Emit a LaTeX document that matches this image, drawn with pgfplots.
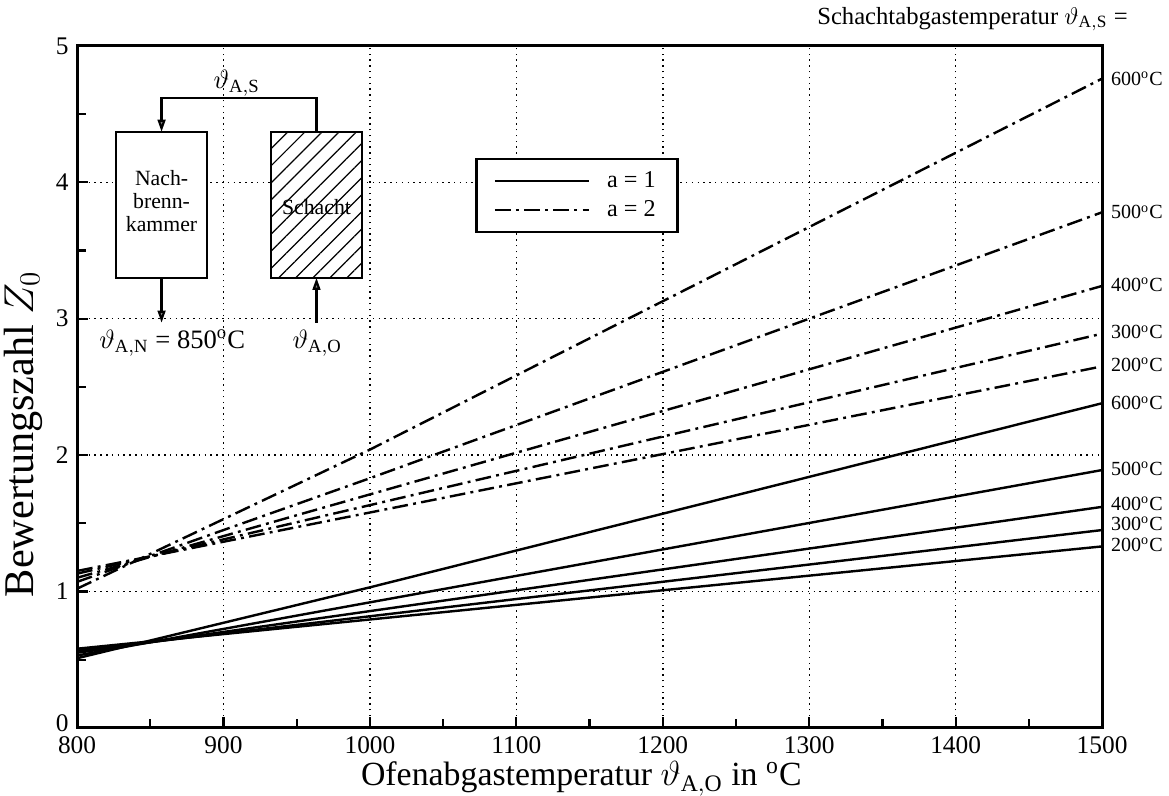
\documentclass[border=0pt]{standalone}
\usepackage{fontspec}
\setmainfont{Liberation Serif}
\usepackage{pgfplots}
\pgfplotsset{compat=1.18}
\usetikzlibrary{patterns.meta,arrows.meta}

\tikzset{
  aeins/.style={black, line width=1pt},
  azwei/.style={black, line width=1pt, dash pattern=on 6.5pt off 2.2pt on 1.2pt off 2.2pt},
  pfeil/.style={line width=0.9pt, -{Triangle[length=5pt,width=3.2pt,fill=gray]}},
}
\newcommand{\grad}{\textsuperscript{o}C}

\begin{document}
\begin{tikzpicture}
\begin{axis}[
  scale only axis, width=424.2pt, height=282.2pt,
  xmin=800, xmax=1500, ymin=0, ymax=5,
  xtick={800,900,...,1500}, ytick={0,1,...,5},
  yticklabels={\raisebox{4pt}{0},1,2,3,4,5},
  minor xtick={850,950,...,1450}, minor ytick={0.5,1.5,...,4.5},
  tick align=inside, xtick pos=left, ytick pos=left,
  major tick length=4.5pt, minor tick length=3.5pt,
  every tick/.style={black, line width=0.9pt},
  axis line style={line width=1.3pt},
  grid=major,
  major grid style={black, line width=0.6pt, dash pattern=on 0.6pt off 1.8pt},
  tick label style={font=\fontsize{10.5}{12}\selectfont},
  /pgf/number format/assume math mode=true,
  /pgf/number format/1000 sep={},
  xlabel={Ofenabgastemperatur $\vartheta_{\mathrm{A,O}}$ in \grad},
  ylabel={Bewertungszahl $Z_0$},
  xlabel style={font=\fontsize{14}{16}\selectfont, at={(axis description cs:0.492,0)}, anchor=base, yshift=-24pt},
  ylabel style={font=\fontsize{17.5}{19}\selectfont, at={(axis description cs:-0.0429,0.431)}, anchor=base},
  clip=false,
  legend style={at={(axis cs:1072,4.18)}, anchor=north west, draw=black, line width=1.1pt,
    font=\fontsize{10}{12}\selectfont, inner xsep=7pt, inner ysep=3pt, row sep=0pt,
    cells={anchor=west}, /tikz/every odd column/.append style={column sep=5pt}},
  legend image code/.code={\draw[#1] (0pt,0pt) -- (39pt,0pt);},
]
\addlegendimage{aeins}
\addlegendentry{a = 1}
\addlegendimage{azwei}
\addlegendentry{a = 2}

% a = 1
\addplot[aeins, forget plot] coordinates {(800,0.51) (1000,1.03) (1500,2.38)};
\addplot[aeins, forget plot] coordinates {(800,0.53) (1000,0.92) (1500,1.89)};
\addplot[aeins, forget plot] coordinates {(800,0.55) (1500,1.62)};
\addplot[aeins, forget plot] coordinates {(800,0.565) (1500,1.45)};
\addplot[aeins, forget plot] coordinates {(800,0.58) (1500,1.33)};
% a = 2
\addplot[azwei, forget plot] coordinates {(800,1.02) (1000,2.04) (1500,4.76)};
\addplot[azwei, forget plot] coordinates {(800,1.07) (1000,1.83) (1500,3.78)};
\addplot[azwei, forget plot] coordinates {(800,1.10) (1500,3.24)};
\addplot[azwei, forget plot] coordinates {(800,1.13) (1500,2.89)};
\addplot[azwei, forget plot] coordinates {(800,1.15) (1500,2.65)};

% Beschriftung rechts
\begin{scope}[every node/.style={anchor=west, xshift=3.5pt, font=\fontsize{8.3}{10}\selectfont, inner sep=0pt}]
\node at (axis cs:1500,4.76) {600\grad};
\node at (axis cs:1500,3.78) {500\grad};
\node at (axis cs:1500,3.25) {400\grad};
\node at (axis cs:1500,2.90) {300\grad};
\node at (axis cs:1500,2.66) {200\grad};
\node at (axis cs:1500,2.38) {600\grad};
\node at (axis cs:1500,1.90) {500\grad};
\node at (axis cs:1500,1.64) {400\grad};
\node at (axis cs:1500,1.495) {300\grad};
\node at (axis cs:1500,1.34) {200\grad};
\end{scope}
\node[anchor=base east, xshift=10.8pt, yshift=9pt, font=\fontsize{10.2}{12}\selectfont, inner sep=0pt]
  at (rel axis cs:1,1) {Schachtabgastemperatur $\vartheta_{\mathrm{A,S}}$ =};

% Schema
\draw[line width=0.9pt, fill=white] (axis cs:826.6,3.30) rectangle (axis cs:888.8,4.37);
\draw[line width=0.9pt, fill=white] (axis cs:932.5,3.30) rectangle (axis cs:994.6,4.37);
\fill[pattern={Lines[angle=45,distance=5pt,line width=0.5pt]}] (axis cs:932.5,3.30) rectangle (axis cs:994.6,4.37);
\node[align=center, font=\fontsize{9}{9.5}\selectfont, inner sep=0pt] at (axis cs:857.7,3.86) {Nach-\\brenn-\\kammer};
\node[font=\fontsize{9}{9.5}\selectfont, inner sep=0pt] at (axis cs:963.5,3.82) {Schacht};
\draw[pfeil] (axis cs:963.5,4.37) -- (axis cs:963.5,4.62) -- (axis cs:857.7,4.62) -- (axis cs:857.7,4.37);
\draw[pfeil] (axis cs:857.7,3.30) -- (axis cs:857.7,2.97);
\draw[pfeil] (axis cs:963.5,2.97) -- (axis cs:963.5,3.30);
\node[font=\fontsize{11}{12}\selectfont] at (axis cs:909,4.73) {$\vartheta_{\mathrm{A,S}}$};
\node[font=\fontsize{11}{12}\selectfont] at (axis cs:865,2.82) {$\vartheta_{\mathrm{A,N}}$ = 850\grad};
\node[font=\fontsize{11}{12}\selectfont] at (axis cs:964,2.82) {$\vartheta_{\mathrm{A,O}}$};
\end{axis}
\pgfresetboundingbox
\path ([shift={(-31.9pt,-28.1pt)}]current axis.south west) rectangle ([shift={(27.7pt,19pt)}]current axis.north east);
\end{tikzpicture}
\end{document}
